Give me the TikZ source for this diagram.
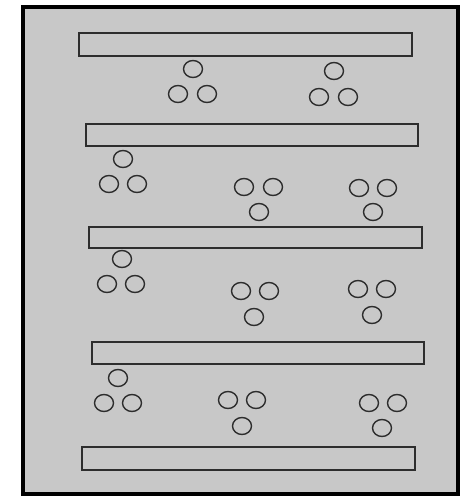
\documentclass[tikz,border=0pt]{standalone}
\usetikzlibrary{shapes.geometric}
\definecolor{panelgray}{RGB}{200,200,200}
\definecolor{edgegray}{RGB}{45,45,45}
\tikzset{
  frame/.style={draw=black,line width=4pt,fill=panelgray},
  shelf/.style={draw=edgegray,line width=1.6pt,fill=panelgray,rectangle,inner sep=0pt},
  ball/.style={draw=edgegray,line width=1.4pt,ellipse,inner sep=0pt,minimum width=19pt,minimum height=17pt}
}
\begin{document}
\begin{tikzpicture}[x=1pt,y=-1pt]
\useasboundingbox (0,0) rectangle (461,496);
\fill[white] (0,0) rectangle (461,496);
\node[frame,rectangle,inner sep=0pt,minimum width=435pt,minimum height=487pt] (box) at (240.5,250.5) {};
% shelves
\node[shelf,minimum width=333pt,minimum height=23pt] (b1) at (245.5,44.5) {};
\node[shelf,minimum width=332pt,minimum height=22pt] (b2) at (252,135) {};
\node[shelf,minimum width=333pt,minimum height=21pt] (b3) at (255.5,237.5) {};
\node[shelf,minimum width=332pt,minimum height=22pt] (b4) at (258,353) {};
\node[shelf,minimum width=333pt,minimum height=23pt] (b5) at (248.5,458.5) {};
% up-type groups (one on top, two below)
\foreach \n/\cx/\ty/\by/\l/\r in {g1/193/69/94/178/207, g2/334/71/97/319/348, g3/123/159/184/109/137, g6/122/259/284/107/135, g9/118/378/403/104/132}{
  \node[ball] (\n t) at (\cx,\ty) {};
  \node[ball] (\n l) at (\l,\by) {};
  \node[ball] (\n r) at (\r,\by) {};
}
% down-type groups (two on top, one below)
\foreach \n/\l/\r/\ty/\cx/\by in {g4/244/273/187/259/212, g5/359/387/188/373/212, g7/241/269/291/254/317, g8/358/386/289/372/315, g10/228/256/400/242/426, g11/369/397/403/382/428}{
  \node[ball] (\n l) at (\l,\ty) {};
  \node[ball] (\n r) at (\r,\ty) {};
  \node[ball] (\n b) at (\cx,\by) {};
}
\end{tikzpicture}
\end{document}
